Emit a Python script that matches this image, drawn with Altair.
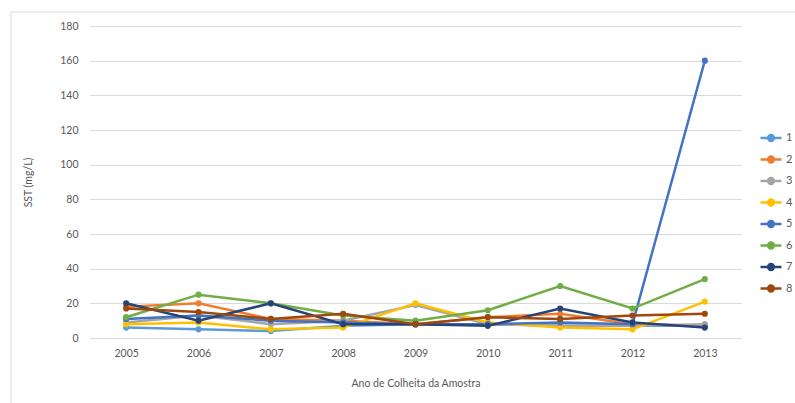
import altair as alt
import pandas as pd

# Sampling years and suspended-solids readings (mg/L) for each site
years = [2005, 2006, 2007, 2008, 2009, 2010, 2011, 2012, 2013]
series_names = ["1", "2", "3", "4", "5", "6", "7", "8"]
s1 = [6, 5, 4, 7, 8, 8, 7, 7, 7]
s2 = [18, 20, 11, 10, 8, 12, 14, 8, 7]
s3 = [9, 13, 8, 10, 19, 8, 7, 7, 8]
s4 = [8, 9, 5, 6, 20, 9, 6, 5, 21]
s5 = [11, 13, 10, 9, 8, 8, 9, 8, 160]
s6 = [12, 25, 20, 13, 10, 16, 30, 17, 34]
s7 = [20, 10, 20, 8, 8, 7, 17, 9, 6]
s8 = [17, 15, 11, 14, 8, 12, 11, 13, 14]
palette = ["#5B9BD5", "#ED7D31", "#A5A5A5", "#FFC000",
           "#4472C4", "#70AD47", "#264478", "#9E480E"]

rows = []
for name, vals in zip(series_names, [s1, s2, s3, s4, s5, s6, s7, s8]):
    for yr, v in zip(years, vals):
        rows.append({"ano": str(yr), "serie": name, "sst": v,
                     "ordem": int(name)})
df = pd.DataFrame(rows)

FONT = "Lato"
TXT = "#595959"
GRID = "#D9D9D9"

x_enc = alt.X("ano:O", title="Ano de Colheita da Amostra",
              scale=alt.Scale(type="point", padding=0.5),
              axis=alt.Axis(labelAngle=0, domain=True, domainColor=GRID,
                            ticks=False, labelPadding=10, titlePadding=20,
                            grid=False))
y_enc = alt.Y("sst:Q", title="SST (mg/L)",
              scale=alt.Scale(domain=[0, 180], nice=False),
              axis=alt.Axis(values=list(range(0, 181, 20)), domain=False,
                            ticks=False, labelPadding=12, titlePadding=26,
                            grid=True, gridColor=GRID))
color_enc = alt.Color(
    "serie:N", title=None,
    scale=alt.Scale(domain=series_names, range=palette),
    legend=alt.Legend(
        orient="none", legendX=669, legendY=100,
        symbolType="M-1,0H1M-0.28,0A0.28,0.28 0 1,1 0.28,0A0.28,0.28 0 1,1 -0.28,0Z",
        symbolSize=440, symbolStrokeWidth=2.4, rowPadding=1.5,
        labelFontSize=11, labelColor=TXT, labelFont=FONT, labelOffset=3,
    ),
)

frame = alt.Chart(pd.DataFrame({"k": [0]})).mark_rect(
    fill=None, stroke=GRID, strokeWidth=1, clip=False
).encode(x=alt.value(-79), y=alt.value(-14), x2=alt.value(760),
         y2=alt.value(420))

lines = alt.Chart(df).mark_line(strokeWidth=2.5).encode(
    x=x_enc, y=y_enc, color=color_enc, order="ordem:Q", detail="serie:N"
)
points = alt.Chart(df).mark_point(filled=True, size=38, opacity=1).encode(
    x=x_enc, y=y_enc, color=color_enc, order="ordem:Q", detail="serie:N"
)

chart = alt.layer(frame, lines, points).properties(
    width=651, height=312,
    autosize=alt.AutoSizeParams(type="none"),
    padding={"left": 90, "top": 26, "right": 54, "bottom": 65},
    background="white",
).configure_view(stroke=None).configure_axis(
    labelFont=FONT, titleFont=FONT, labelFontSize=10.5, titleFontSize=10.5,
    labelColor=TXT, titleColor=TXT, titleFontWeight="normal"
)

chart.save("out.html", embed_options={"renderer": "svg", "actions": False})
